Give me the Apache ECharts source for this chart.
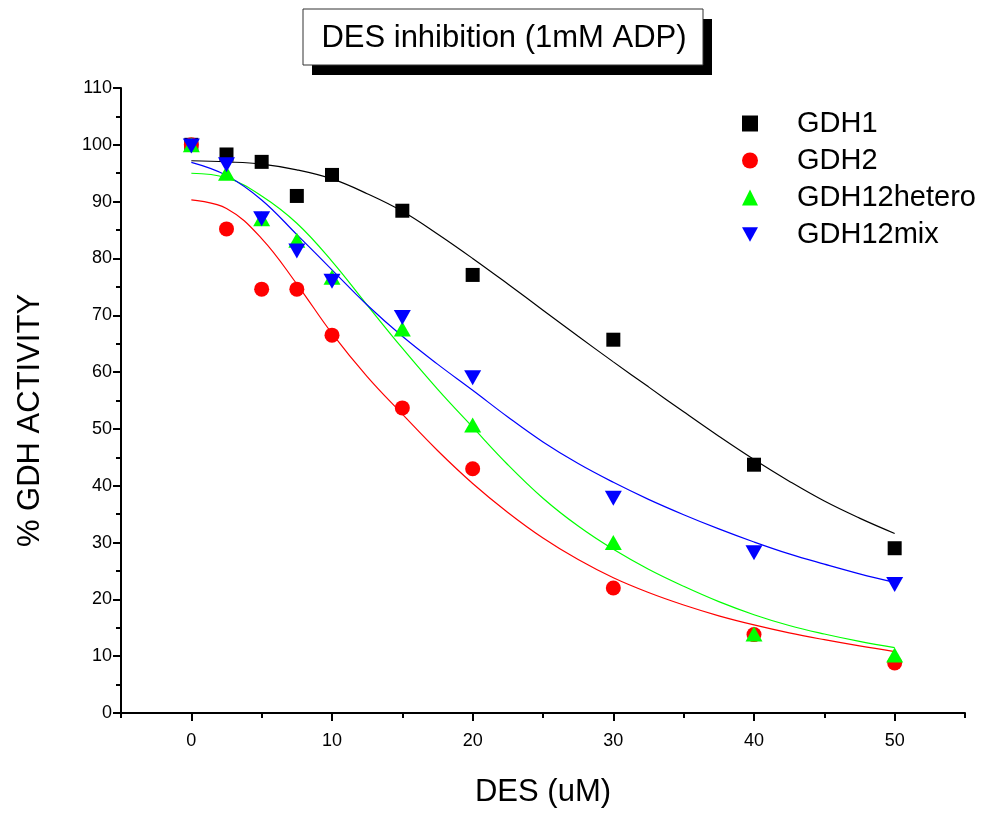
<!DOCTYPE html>
<html>
<head>
<meta charset="utf-8">
<title>DES inhibition (1mM ADP)</title>
<script src="https://cdn.jsdelivr.net/npm/echarts@6/dist/echarts.min.js"></script>
<style>
  html, body { margin: 0; padding: 0; background: #fff; }
  #chart { width: 992px; height: 815px; }
</style>
</head>
<body>
<div id="chart"></div>
<script>
// measured points
const desUM = [0, 2.5, 5, 7.5, 10, 15, 20, 30, 40, 50]
const gdh1 = [100, 98.3, 97, 91, 94.7, 88.4, 77.1, 65.7, 43.7, 29]
const gdh2 = [100, 85.2, 74.6, 74.6, 66.5, 53.7, 43, 22, 13.8, 8.8]
const gdh12hetero = [100, 95, 87, 83.2, 76.7, 67.6, 50.7, 30, 13.9, 10.2]
const gdh12mix = [99.8, 96.5, 87, 81.3, 76, 69.6, 59, 37.8, 28.2, 22.6]

// fitted curves, every 2.5 uM
const fitX = [0, 2.5, 5, 7.5, 10, 12.5, 15, 17.5, 20, 22.5, 25, 27.5, 30, 32.5, 35, 37.5, 40, 42.5, 45, 47.5, 50]
const fitGdh1 = [97.2, 97.0, 96.6, 95.6, 94.0, 91.4, 88.3, 84.3, 80.0, 75.5, 70.9, 66.3, 61.8, 57.4, 53.0, 48.7, 44.6, 40.8, 37.3, 34.3, 31.6]
const fitGdh2 = [90.3, 88.8, 83.5, 75.5, 66.8, 59.2, 52.6, 46.2, 40.4, 35.3, 30.8, 27.0, 23.8, 21.2, 19.0, 17.1, 15.5, 14.1, 12.9, 11.8, 10.8]
const fitHetero = [95.0, 94.2, 91.0, 86.2, 79.5, 71.8, 64.2, 57.0, 50.3, 43.7, 37.8, 32.9, 28.8, 25.3, 22.3, 19.6, 17.3, 15.4, 13.9, 12.6, 11.5]
const fitMix = [96.9, 94.6, 90.3, 84.2, 78.0, 71.8, 66.3, 61.4, 56.8, 52.1, 47.7, 43.9, 40.6, 37.6, 34.9, 32.4, 30.1, 28.0, 26.2, 24.5, 23.0]

const xMajorTicks = [0, 10, 20, 30, 40, 50]
const xMinorTicks = [-5, 5, 15, 25, 35, 45, 55]

const font = '"Liberation Sans", Arial, sans-serif'
const downTriangle = 'path://M0,0L10,0L5,9Z'

const pairs = (xs, ys) => xs.map((x, i) => [x, ys[i]])

function fitSeries(name, ys, color) {
  return {
    name,
    type: 'line',
    data: pairs(fitX, ys),
    smooth: 0.4,
    showSymbol: false,
    silent: true,
    z: 2,
    lineStyle: { color, width: 1.2 },
  }
}

function pointSeries(name, ys, color, symbol, size) {
  return {
    name,
    type: 'scatter',
    data: pairs(desUM, ys),
    symbol,
    symbolSize: size,
    z: 3,
    itemStyle: { color, opacity: 1 },
  }
}

const chart = echarts.init(document.getElementById('chart'), null, { renderer: 'canvas' })

chart.setOption({
  backgroundColor: '#fff',
  animation: false,
  textStyle: { fontFamily: font },
  grid: { left: 121, right: 27, top: 88, bottom: 102, outerBoundsMode: 'none' },
  graphic: [
    { type: 'rect', shape: { x: 312, y: 19, width: 400, height: 56 }, style: { fill: '#000' }, z: 10 },
    { type: 'rect', shape: { x: 303, y: 9, width: 400, height: 56 }, style: { fill: '#fff', stroke: '#333', lineWidth: 1 }, z: 11 },
    {
      type: 'text', x: 504, y: 38, z: 12,
      style: { text: 'DES inhibition (1mM ADP)', font: '31px ' + font, fill: '#000', align: 'center', verticalAlign: 'middle' },
    },
  ],
  legend: {
    data: ['GDH1', 'GDH2', 'GDH12hetero', 'GDH12mix'],
    orient: 'vertical',
    left: 737,
    top: 104,
    itemWidth: 16,
    itemHeight: 16,
    itemGap: 8,
    textStyle: { fontSize: 29, color: '#000', fontFamily: font, padding: [0, 0, 0, 34] },
  },
  xAxis: [
    {
      type: 'value',
      min: -5,
      max: 55,
      name: 'DES (uM)',
      nameLocation: 'middle',
      nameGap: 64,
      nameTextStyle: { fontSize: 31, color: '#000', fontFamily: font },
      axisLine: { show: true, lineStyle: { color: '#000', width: 2 } },
      axisTick: { show: true, length: 8, customValues: xMajorTicks, lineStyle: { color: '#000', width: 2 } },
      axisLabel: { customValues: xMajorTicks, fontSize: 18, color: '#000', margin: 19 },
      splitLine: { show: false },
    },
    {
      type: 'value',
      min: -5,
      max: 55,
      position: 'bottom',
      offset: 0,
      axisLine: { show: false },
      axisTick: { show: true, length: 5, customValues: xMinorTicks, lineStyle: { color: '#000', width: 2 } },
      axisLabel: { show: false },
      splitLine: { show: false },
    },
  ],
  yAxis: {
    type: 'value',
    min: 0,
    max: 110,
    interval: 10,
    name: '% GDH ACTIVITY',
    nameLocation: 'middle',
    nameRotate: 90,
    nameGap: 75,
    nameTextStyle: { fontSize: 31, color: '#000', fontFamily: font, padding: [0, 40, 0, 0] },
    axisLine: { show: true, onZero: false, lineStyle: { color: '#000', width: 2 } },
    axisTick: { show: true, length: 8, lineStyle: { color: '#000', width: 2 } },
    minorTick: { show: true, splitNumber: 2, length: 5, lineStyle: { color: '#000', width: 2 } },
    axisLabel: { fontSize: 18, color: '#000', margin: 9 },
    splitLine: { show: false },
  },
  series: [
    fitSeries('GDH1 fit', fitGdh1, '#000'),
    fitSeries('GDH2 fit', fitGdh2, '#ff0000'),
    fitSeries('GDH12hetero fit', fitHetero, '#00ff00'),
    fitSeries('GDH12mix fit', fitMix, '#0000ff'),
    pointSeries('GDH1', gdh1, '#000', 'rect', 14),
    pointSeries('GDH2', gdh2, '#ff0000', 'circle', 15),
    pointSeries('GDH12hetero', gdh12hetero, '#00ff00', 'triangle', [17, 15]),
    pointSeries('GDH12mix', gdh12mix, '#0000ff', downTriangle, [17, 15]),
  ],
})

window.addEventListener('resize', () => chart.resize())
</script>
</body>
</html>
